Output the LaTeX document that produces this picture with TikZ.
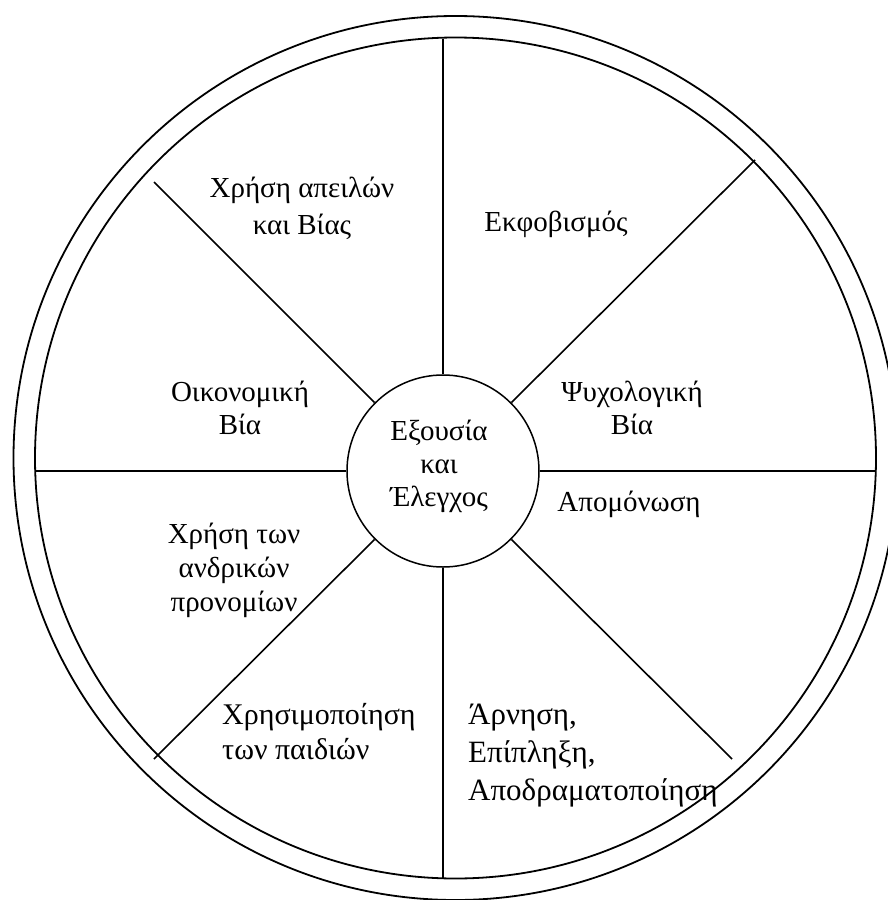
\documentclass[tikz,border=0pt]{standalone}
\usepackage{fontspec}
\setmainfont{Liberation Serif}
\begin{document}
\begin{tikzpicture}[x=1pt,y=-1pt,
  rim/.style={line width=1.8pt},
  spoke/.style={line width=1.6pt},
  lbl/.style={font=\fontsize{29}{35}\selectfont, align=center, inner sep=0pt},
  lblleft/.style={font=\fontsize{30}{35}\selectfont, align=left, inner sep=0pt, anchor=west},
  lblbig/.style={font=\fontsize{31}{38}\selectfont, align=left, inner sep=0pt, anchor=west}]
\useasboundingbox (0,0) rectangle (888,900);
\coordinate (O) at (455.5,458);
\draw[rim] (O) circle[radius=442];
\draw[rim] (O) circle[radius=420.5];
\node[draw, circle, minimum size=192pt, inner sep=0pt, line width=1.5pt] (hub) at (443,471) {};
% spoke end points on the ring
\coordinate (W) at (35.2,471);
\coordinate (E) at (875.8,471);
\coordinate (N) at (443,38.7);
\coordinate (S) at (443,879.3);
\coordinate (NW) at (154,182);
\coordinate (NE) at (755,160);
\coordinate (SW) at (154,759);
\coordinate (SE) at (732,759);
\draw[spoke] (hub.west) -- (W);
\draw[spoke] (hub.east) -- (E);
\draw[spoke] (hub.north) -- (N);
\draw[spoke] (hub.south) -- (S);
\draw[spoke] (hub.135) -- (NW);
\draw[spoke] (hub.45) -- (NE);
\draw[spoke] (hub.225) -- (SW);
\draw[spoke] (hub.-45) -- (SE);
% labels
\node[lbl, font=\fontsize{29}{33}\selectfont] (hubtext) at (439,466) {Εξουσία\\και\\Έλεγχος};
\node[lbl, font=\fontsize{29}{37}\selectfont] (threat) at (302,208) {Χρήση απειλών\\και Βίας};
\node[lbl] (intim) at (556,224) {Εκφοβισμός};
\node[lbl, font=\fontsize{29}{33}\selectfont] (econ) at (240,408) {Οικονομική\\Βία};
\node[lbl, font=\fontsize{29}{33}\selectfont] (psych) at (632,408) {Ψυχολογική\\Βία};
\node[lbl] (isol) at (629,504) {Απομόνωση};
\node[lbl, font=\fontsize{29}{34}\selectfont] (priv) at (234,570) {Χρήση των\\ανδρικών\\προνομίων};
\node[lblleft] (child) at (222,732) {Χρησιμοποίηση\\των παιδιών};
\node[lblbig] (deny) at (468,756) {Άρνηση,\\Επίπληξη,\\Αποδραματοποίηση};
\end{tikzpicture}
\end{document}
